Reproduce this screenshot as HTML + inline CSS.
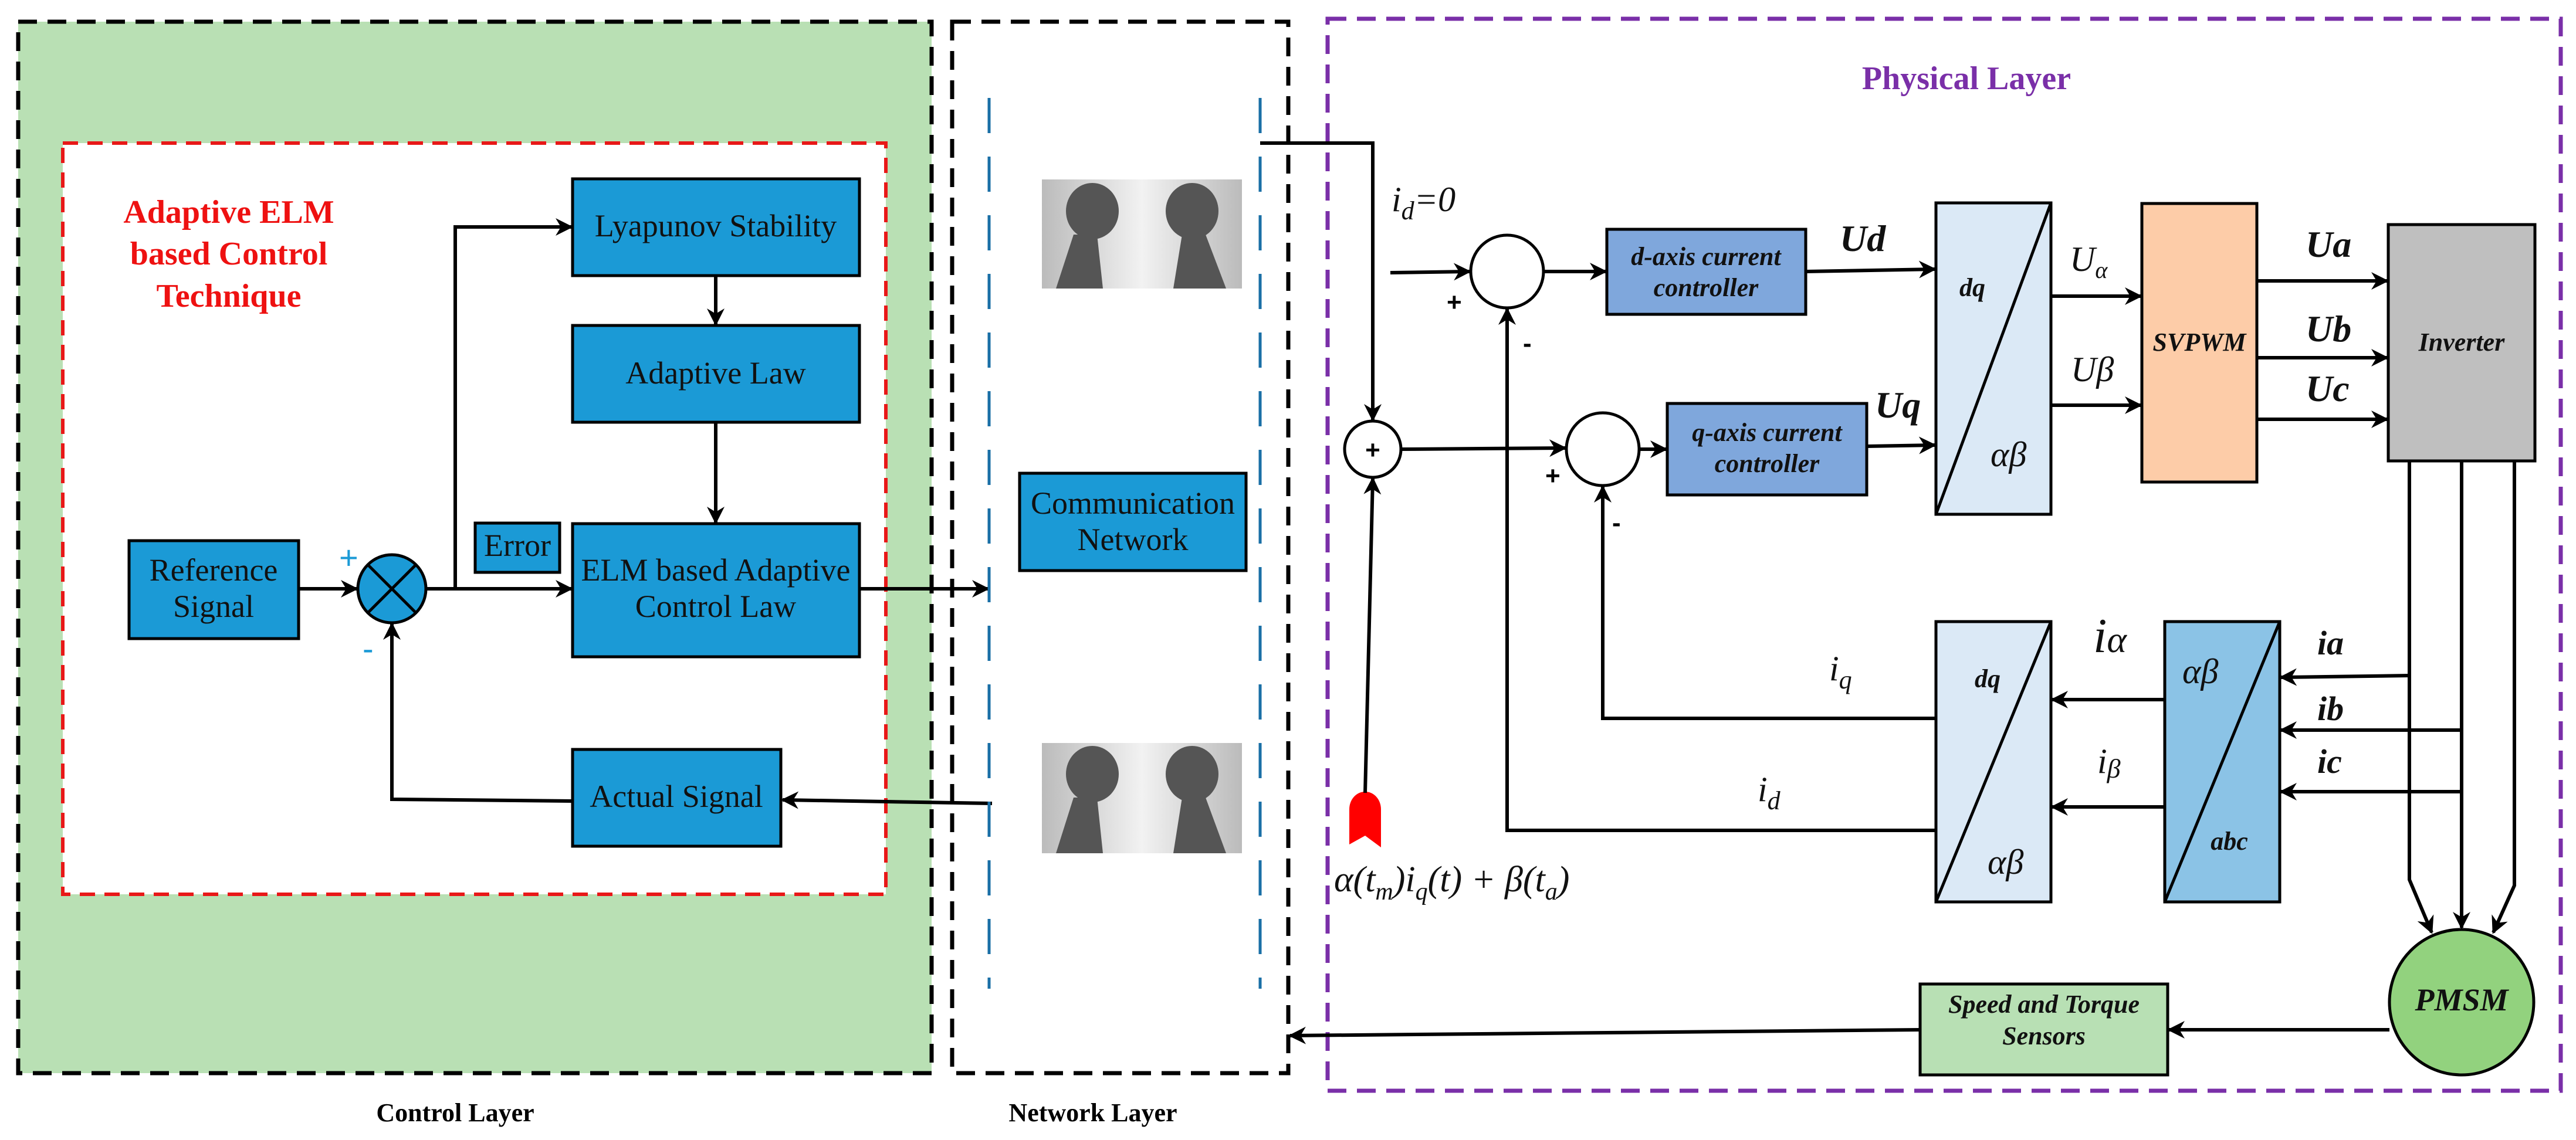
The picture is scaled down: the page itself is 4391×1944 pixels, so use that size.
<!DOCTYPE html>
<html><head><meta charset="utf-8"><style>
html,body{margin:0;padding:0;background:#fff}
svg{display:block}
</style></head><body>
<svg width="4391" height="1944" viewBox="0 0 4391 1944" xmlns="http://www.w3.org/2000/svg">
<defs>
<marker id="a" viewBox="0 0 10 10" refX="9" refY="5" markerWidth="5" markerHeight="5" orient="auto" markerUnits="strokeWidth"><path d="M0,0 L10,5 L0,10 L3,5 z" fill="#000"/></marker>
<linearGradient id="g" x1="0" x2="1"><stop offset="0" stop-color="#bbb"/><stop offset="0.5" stop-color="#f2f2f2"/><stop offset="1" stop-color="#bbb"/></linearGradient>
</defs>
<rect x="31" y="37" width="1557" height="1793" fill="#b9e0b4" stroke="#000" stroke-width="7" stroke-dasharray="32,18"/>
<rect x="1623" y="37" width="573" height="1793" fill="#fff" stroke="#000" stroke-width="7" stroke-dasharray="32,18"/>
<rect x="107" y="244" width="1403" height="1281" fill="#fff" stroke="#e81818" stroke-width="6" stroke-dasharray="26,16"/>
<rect x="2263" y="32" width="2102" height="1828" fill="none" stroke="#7a2fa8" stroke-width="7" stroke-dasharray="32,18"/>
<g font-family="Liberation Serif, serif" font-weight="bold" font-size="56" fill="#ee1111" text-anchor="middle">
<text x="390" y="380">Adaptive ELM</text><text x="390" y="451">based Control</text><text x="390" y="523">Technique</text></g>
<text x="776" y="1912" text-anchor="middle" font-family="Liberation Serif, serif" font-weight="bold" font-size="44">Control Layer</text>
<text x="1863" y="1912" text-anchor="middle" font-family="Liberation Serif, serif" font-weight="bold" font-size="44">Network Layer</text>
<text x="3352" y="152" text-anchor="middle" font-family="Liberation Serif, serif" font-weight="bold" font-size="56" fill="#7a2fa8">Physical Layer</text>
<g fill="#1b9ad6" stroke="#000" stroke-width="5">
<rect x="976" y="305" width="489" height="165"/>
<rect x="976" y="555" width="489" height="165"/>
<rect x="976" y="893" width="489" height="227"/>
<rect x="810" y="892" width="144" height="84"/>
<rect x="220" y="922" width="289" height="167"/>
<rect x="976" y="1278" width="355" height="165"/>
<rect x="1738" y="807" width="386" height="166"/>
</g>
<g font-family="Liberation Serif, serif" font-size="54" fill="#111" text-anchor="middle">
<text x="1220" y="403">Lyapunov Stability</text>
<text x="1220" y="654">Adaptive Law</text>
<text x="1220" y="990">ELM based Adaptive</text><text x="1220" y="1052">Control Law</text>
<text x="882" y="948">Error</text>
<text x="364" y="990">Reference</text><text x="364" y="1052">Signal</text>
<text x="1153" y="1376">Actual Signal</text>
<text x="1931" y="876">Communication</text><text x="1931" y="938">Network</text>
</g>
<circle cx="668" cy="1004" r="58" fill="#1b9ad6" stroke="#000" stroke-width="5"/>
<line x1="627" y1="963" x2="709" y2="1045" stroke="#000" stroke-width="5"/><line x1="709" y1="963" x2="627" y2="1045" stroke="#000" stroke-width="5"/>
<text x="578" y="970" font-family="Liberation Sans, sans-serif" font-size="56" fill="#1b9ad6">+</text>
<text x="618" y="1125" font-family="Liberation Sans, sans-serif" font-size="56" fill="#1b9ad6">-</text>
<g stroke="#000" stroke-width="6" fill="none" marker-end="url(#a)">
<line x1="509" y1="1004" x2="608" y2="1004"/>
<polyline points="726,1004 974,1004"/>
<polyline points="776,1004 776,387 974,387"/>
<line x1="1220" y1="470" x2="1220" y2="553"/>
<line x1="1220" y1="720" x2="1220" y2="891"/>
<line x1="1465" y1="1004" x2="1684" y2="1004"/>
<polyline points="976,1366 668,1363 668,1064"/>
<line x1="1691" y1="1370" x2="1334" y2="1364"/>
</g>
<g stroke="#1a6fa6" stroke-width="5" stroke-dasharray="60,40"><line x1="1686" y1="167" x2="1686" y2="1686"/><line x1="2148" y1="167" x2="2148" y2="1686"/></g>
<g>
<rect x="1776" y="306" width="341" height="186" fill="url(#g)"/>
<ellipse cx="1862" cy="360" rx="45" ry="48" fill="#555"/><path d="M1830,400 L1870,400 L1880,492 L1800,492 Z" fill="#555"/>
<ellipse cx="2032" cy="360" rx="45" ry="48" fill="#555"/><path d="M2015,400 L2055,400 L2090,492 L2000,492 Z" fill="#555"/>
<rect x="1776" y="1267" width="341" height="188" fill="url(#g)"/>
<ellipse cx="1862" cy="1320" rx="45" ry="48" fill="#555"/><path d="M1830,1360 L1870,1360 L1880,1455 L1800,1455 Z" fill="#555"/>
<ellipse cx="2032" cy="1320" rx="45" ry="48" fill="#555"/><path d="M2015,1360 L2055,1360 L2090,1455 L2000,1455 Z" fill="#555"/>
</g>
<g stroke="#000" stroke-width="5">
<rect x="2739" y="391" width="339" height="145" fill="#7fa7dc"/>
<rect x="2842" y="688" width="340" height="156" fill="#7fa7dc"/>
<rect x="3300" y="346" width="196" height="531" fill="#dbe9f6"/>
<rect x="3651" y="347" width="196" height="475" fill="#fdcca8"/>
<rect x="4071" y="383" width="250" height="403" fill="#bfbfbf"/>
<rect x="3300" y="1060" width="196" height="478" fill="#dbe9f6"/>
<rect x="3690" y="1060" width="196" height="478" fill="#8bc3e6"/>
<rect x="3273" y="1678" width="422" height="155" fill="#b8e0b4"/>
<ellipse cx="4196" cy="1709" rx="123" ry="124" fill="#92d27e"/>
<line x1="3496" y1="346" x2="3300" y2="877"/>
<line x1="3496" y1="1060" x2="3300" y2="1538"/>
<line x1="3886" y1="1060" x2="3690" y2="1538"/>
<ellipse cx="2569" cy="463" rx="62" ry="62" fill="#fff"/>
<ellipse cx="2732" cy="766" rx="62" ry="62" fill="#fff"/>
<ellipse cx="2340" cy="766" rx="48" ry="48" fill="#fff"/>
</g>
<text x="2340" y="782" text-anchor="middle" font-family="Liberation Sans, sans-serif" font-weight="bold" font-size="44">+</text>
<g font-family="Liberation Sans, sans-serif" font-weight="bold" font-size="44">
<text x="2466" y="530">+</text><text x="2596" y="600">-</text>
<text x="2634" y="826">+</text><text x="2748" y="906">-</text></g>
<g font-family="Liberation Serif, serif" font-size="44" font-weight="bold" font-style="italic" fill="#111" text-anchor="middle">
<text x="2908" y="452">d-axis current</text><text x="2908" y="505">controller</text>
<text x="3012" y="752">q-axis current</text><text x="3012" y="805">controller</text>
<text x="3749" y="598">SVPWM</text>
<text x="4196" y="598">Inverter</text>
<text x="3484" y="1727">Speed and Torque</text><text x="3484" y="1781">Sensors</text>
<text x="4196" y="1723" font-size="54">PMSM</text>
<text x="3362" y="505">dq</text><text x="3388" y="1172">dq</text><text x="3800" y="1449">abc</text>
</g>
<g font-family="Liberation Serif, serif" font-style="italic" fill="#111" font-size="60">
<text x="3393" y="795">αβ</text><text x="3388" y="1490">αβ</text><text x="3720" y="1165">αβ</text>
</g>
<g font-family="Liberation Serif, serif" font-size="64" font-weight="bold" font-style="italic" fill="#111"><text x="3136" y="428">Ud</text><text x="3196" y="712">Uq</text>
<text x="3930" y="438">Ua</text><text x="3930" y="582">Ub</text><text x="3930" y="684">Uc</text>
<text x="3950" y="1116" font-size="58">ia</text><text x="3950" y="1228" font-size="58">ib</text><text x="3950" y="1318" font-size="58">ic</text></g>
<g font-family="Liberation Serif, serif" font-style="italic" fill="#111" font-size="60">
<text x="3528" y="462">U<tspan font-size="40" dy="12">α</tspan></text>
<text x="3530" y="650">Uβ</text>
<text x="3568" y="1112" font-size="84">i<tspan font-size="64">α</tspan></text>
<text x="3575" y="1318">i<tspan font-size="46" dy="8">β</tspan></text>
<text x="3118" y="1160">i<tspan font-size="44" dy="14">q</tspan></text>
<text x="2996" y="1366">i<tspan font-size="44" dy="14">d</tspan></text>
<text x="2372" y="360">i<tspan font-size="44" dy="14">d</tspan><tspan dy="-14">=0</tspan></text>
<text x="2274" y="1520" font-size="62">α(t<tspan font-size="42" dy="14">m</tspan><tspan dy="-14">)i</tspan><tspan font-size="42" dy="14">q</tspan><tspan dy="-14">(t) + β(t</tspan><tspan font-size="42" dy="14">a</tspan><tspan dy="-14">)</tspan></text>
</g>
<path d="M2300,1440 L2300,1380 A27,30 0 0 1 2354,1380 L2354,1445 L2327,1425 Z" fill="#ff0000"/>
<g stroke="#000" stroke-width="6" fill="none" marker-end="url(#a)">
<polyline points="2148,244 2340,244 2340,716"/>
<line x1="2327" y1="1352" x2="2340" y2="816"/>
<line x1="2370" y1="465" x2="2505" y2="463"/>
<line x1="2631" y1="463" x2="2737" y2="463"/>
<line x1="3078" y1="463" x2="3298" y2="459"/>
<line x1="2388" y1="766" x2="2668" y2="764"/>
<line x1="2794" y1="766" x2="2840" y2="766"/>
<line x1="3182" y1="761" x2="3298" y2="759"/>
<line x1="3496" y1="505" x2="3649" y2="505"/>
<line x1="3496" y1="691" x2="3649" y2="691"/>
<line x1="3847" y1="479" x2="4069" y2="479"/>
<line x1="3847" y1="610" x2="4069" y2="610"/>
<line x1="3847" y1="715" x2="4069" y2="715"/>
<polyline points="4107,786 4107,1500 4145,1590"/>
<line x1="4196" y1="786" x2="4196" y2="1582"/>
<polyline points="4286,786 4286,1510 4250,1590"/>
<polyline points="4107,1152 3888,1155"/>
<polyline points="4196,1245 3888,1245"/>
<polyline points="4196,1350 3888,1350"/>
<line x1="3690" y1="1193" x2="3498" y2="1193"/>
<line x1="3690" y1="1376" x2="3498" y2="1376"/>
<polyline points="3300,1225 2732,1225 2732,830"/>
<polyline points="3300,1416 2569,1416 2569,527"/>
<line x1="4073" y1="1756" x2="3697" y2="1756"/>
<line x1="3273" y1="1756" x2="2199" y2="1766"/>
</g>
</svg>
</body></html>
